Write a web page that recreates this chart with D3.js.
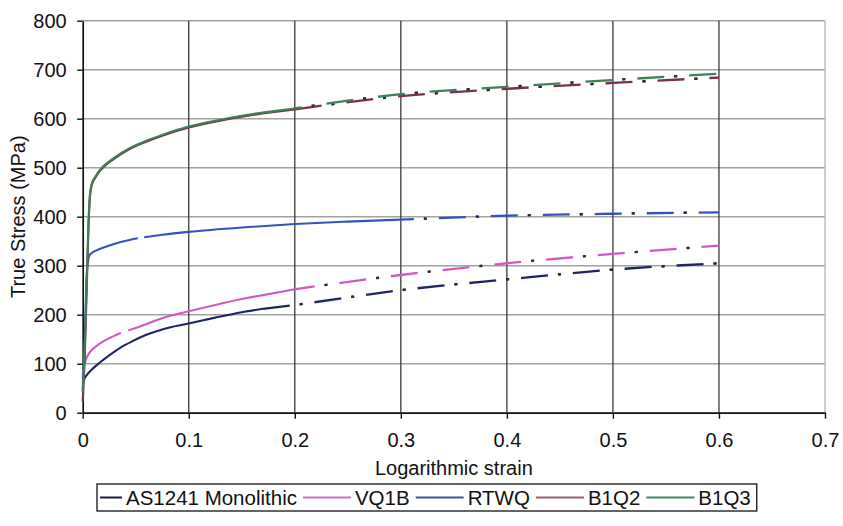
<!DOCTYPE html>
<html><head><meta charset="utf-8">
<script src="https://cdn.jsdelivr.net/npm/d3@7"></script>
<style>
body{margin:0;background:#fff}
svg{display:block}
text{font-family:"Liberation Sans",Arial,sans-serif;fill:#111}
</style>
</head><body>
<svg id="chart" width="843" height="526"></svg>
<script>
// ---------- data ----------
const seriesNames = ["AS1241 Monolithic", "VQ1B", "RTWQ", "B1Q2", "B1Q3"];
const xTicks = [0, 0.1, 0.2, 0.3, 0.4, 0.5, 0.6, 0.7];
const xTickLabels = ["0", "0.1", "0.2", "0.3", "0.4", "0.5", "0.6", "0.7"];
const yTicks = [0, 100, 200, 300, 400, 500, 600, 700, 800];
const xTitle = "Logarithmic strain";
const yTitle = "True Stress (MPa)";

// measured (solid) parts; null marks a gap in the record
const as1241Measured = [[0,62],[0.002,71],[0.005,80],[0.01,91],[0.016,102],[0.025,117],[0.035,132],[0.047,146],[0.06,159],[0.075,170],[0.1,182],[0.125,194],[0.15,205],[0.17,212]];
const as1241Extrap   = [[0.17,212],[0.2,220],[0.3,250],[0.4,272],[0.5,292],[0.6,305]];
const vq1bMeasured   = [[0,70],[0.001,90],[0.003,108],[0.006,121],[0.01,131],[0.016,141],[0.025,152],[0.032,159],[0.036,163],null,[0.043,168],[0.054,176],[0.075,193],[0.1,207],[0.125,220],[0.15,232],[0.175,242],[0.2,252]];
const vq1bExtrap     = [[0.2,252],[0.3,281],[0.4,305],[0.5,324],[0.6,341]];
const rtwqMeasured   = [[0,45],[0.002,150],[0.0035,268],[0.005,310],[0.0066,322],[0.01,328],[0.016,334],[0.025,341],[0.035,348],[0.045,353],[0.052,356],null,[0.058,358],[0.075,363],[0.1,369],[0.15,378],[0.2,385],[0.25,390],[0.3,394]];
const rtwqExtrap     = [[0.3,394],[0.4,402],[0.5,406],[0.6,409]];
const b1q2Measured   = [[0,22],[0.002,120],[0.0035,230],[0.0055,380],[0.0068,440],[0.0085,464],[0.012,480],[0.016,493],[0.025,511],[0.035,526],[0.047,541],[0.06,553],[0.075,565],[0.1,582],[0.125,594],[0.15,604],[0.175,612],[0.2,619]];
const b1q2Extrap     = [[0.2,619],[0.3,646],[0.4,661],[0.5,673],[0.6,684]];
const b1q3Measured   = [[0,42],[0.002,140],[0.0035,250],[0.0055,392],[0.0068,445],[0.0085,467],[0.012,482],[0.016,495],[0.025,513],[0.035,528],[0.047,543],[0.06,555],[0.075,567],[0.1,584],[0.125,596],[0.15,606],[0.175,614],[0.2,621]];
const b1q3Extrap     = [[0.2,621],[0.3,650],[0.4,665],[0.5,679],[0.6,692]];

const measured = [as1241Measured, vq1bMeasured, rtwqMeasured, b1q2Measured, b1q3Measured];
const extrap   = [as1241Extrap, vq1bExtrap, rtwqExtrap, b1q2Extrap, b1q3Extrap];

// ---------- styles ----------
const colors = ["#1e2468", "#d458c4", "#3553bd", "#7a3048", "#3f8058"];
const legendColors = ["#1a1a40", "#d070c8", "#3a55a8", "#a05a78", "#3f8a62"];

// ---------- drawing ----------
const svg = d3.select("#chart");
const x = d3.scaleLinear().domain([0, 0.7]).range([82.7, 825]);
const y = d3.scaleLinear().domain([0, 800]).range([412.7, 20.7]);

// horizontal gridlines
svg.append("g").selectAll("line").data(yTicks.filter(d => d > 0)).join("line")
  .attr("x1", x(0)).attr("x2", x(0.7))
  .attr("y1", d => y(d)).attr("y2", d => y(d))
  .attr("stroke", "#a2a2a2").attr("stroke-width", 1.5);

// vertical gridlines
svg.append("g").selectAll("line").data(xTicks.filter(d => d > 0)).join("line")
  .attr("x1", d => x(d)).attr("x2", d => x(d))
  .attr("y1", y(0)).attr("y2", y(800))
  .attr("stroke", d => d >= 0.7 ? "#b4b4b4" : "#3a3a3a")
  .attr("stroke-width", 1.3);

// axes
const yAxis = svg.append("g").attr("transform", `translate(${x(0)},0)`)
  .call(d3.axisLeft(y).tickValues(yTicks).tickSize(5.5).tickSizeOuter(0).tickPadding(10.5));
const xAxis = svg.append("g").attr("transform", `translate(0,${y(0)})`)
  .call(d3.axisBottom(x).tickValues(xTicks).tickFormat((d, i) => xTickLabels[i]).tickSize(6).tickSizeOuter(0).tickPadding(14));
[yAxis, xAxis].forEach(a => {
  a.select(".domain").attr("stroke", "#111").attr("stroke-width", 1.7);
  a.selectAll(".tick line").attr("stroke", "#111").attr("stroke-width", 1.4);
  a.selectAll(".tick text").attr("font-size", 20).attr("font-family", '"Liberation Sans",Arial,sans-serif').attr("fill", "#111");
});
xAxis.selectAll(".tick text").attr("dy", "0.71em");

// axis titles
svg.append("text").attr("x", (x(0) + x(0.7)) / 2).attr("y", 475)
  .attr("text-anchor", "middle").attr("font-size", 20).text(xTitle);
svg.append("text").attr("transform", `translate(25,${(y(0) + y(800)) / 2}) rotate(-90)`)
  .attr("text-anchor", "middle").attr("font-size", 20).text(yTitle);

// curves
const line = d3.line().defined(d => d !== null)
  .x(d => x(d[0])).y(d => y(d[1])).curve(d3.curveMonotoneX);
const curves = svg.append("g").attr("fill", "none");
measured.forEach((data, i) => {
  curves.append("path").attr("d", line(data))
    .attr("stroke", colors[i]).attr("stroke-width", 2.1).attr("stroke-linejoin", "round");
});
extrap.forEach((data, i) => {
  const off = i === 4 ? 20 : (i === 3 ? 0 : i * 7);
  curves.append("path").attr("d", line(data))
    .attr("stroke", colors[i]).attr("stroke-width", 2.3)
    .attr("stroke-dasharray", "27,10,3,12")
    .attr("stroke-dashoffset", off);
  curves.append("path").attr("d", line(data))
    .attr("stroke", "#2a2a2a").attr("stroke-width", 2.3)
    .attr("stroke-dasharray", "0,37,3,12")
    .attr("stroke-dashoffset", off);
});

// legend
const lg = svg.append("g");
const lgTop = 484, lgH = 27, lgMid = lgTop + lgH / 2;
const lgLeft = 97;
const itemsG = lg.append("g");
let cx = 100;
seriesNames.forEach((name, i) => {
  const len = i === 0 ? 22 : 48;
  itemsG.append("line").attr("x1", cx).attr("x2", cx + len)
    .attr("y1", lgMid).attr("y2", lgMid)
    .attr("stroke", legendColors[i]).attr("stroke-width", 2);
  const t = itemsG.append("text").attr("x", cx + len + 4).attr("y", lgMid + 7.3)
    .attr("font-size", 20.5).text(name);
  cx = cx + len + 4 + t.node().getComputedTextLength() + 6;
});
lg.insert("rect", ":first-child")
  .attr("x", lgLeft).attr("y", lgTop).attr("width", cx - lgLeft).attr("height", lgH)
  .attr("fill", "#fff").attr("stroke", "#111").attr("stroke-width", 1.3);
</script>
</body></html>
